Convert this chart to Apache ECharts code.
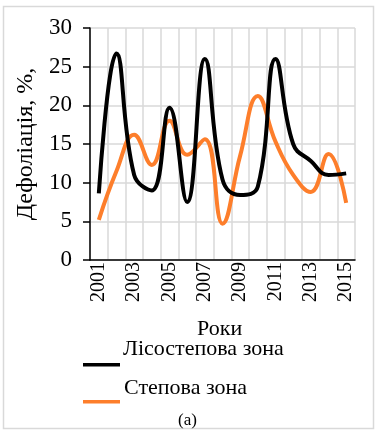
<!DOCTYPE html>
<html>
<head>
<meta charset="utf-8">
<script src="https://cdn.jsdelivr.net/npm/echarts@6/dist/echarts.min.js"></script>
<style>
  html, body { margin: 0; padding: 0; background: #fff; }
  #chart { width: 375px; height: 432px; }
</style>
</head>
<body>
<div id="chart"></div>
<script>
// data
const years = ['2001', '2002', '2003', '2004', '2005', '2006', '2007', '2008',
  '2009', '2010', '2011', '2012', '2013', '2014', '2015'];
const forestSteppe = [8.6, 26.7, 11, 9.0, 19.7, 7.5, 26, 10.4, 8.4, 9.5, 26, 15, 12.8, 11, 11.2];
const steppe = [5.2, 11.5, 16.2, 12.3, 18, 13.6, 15.6, 4.7, 13.5, 21.2, 15.3, 11, 8.8, 13.7, 7.4];
const seriesNames = ['Лісостепова зона', 'Степова зона'];
const seriesColors = ['#000000', '#FD7E2B'];
const yTicks = [0, 5, 10, 15, 20, 25, 30];

const font = 'Liberation Serif';
let chart = echarts.init(document.getElementById('chart'));
chart.setOption({
  animation: false,
  grid: { left: 90, right: 20, top: 28, bottom: 172 },
  xAxis: {
    type: 'category',
    data: years,
    boundaryGap: true,
    axisLine: { lineStyle: { color: '#000', width: 1.5 } },
    axisTick: {
      length: 7,
      lineStyle: { color: '#000', width: 1.5 },
      interval: function (i) { return i % 2 === 1; }
    },
    axisLabel: {
      interval: 1,
      rotate: 90,
      margin: 2,
      fontFamily: font,
      fontSize: 20,
      color: '#000'
    },
    splitLine: { show: true, interval: 0, lineStyle: { color: '#d9d9d9', width: 1.5 } }
  },
  yAxis: {
    type: 'value',
    min: yTicks[0],
    max: yTicks[yTicks.length - 1],
    interval: 5,
    name: 'Дефоліація, %,',
    nameLocation: 'middle',
    nameGap: 48,
    nameRotate: 90,
    nameTextStyle: { fontFamily: font, fontSize: 24, color: '#000' },
    axisLine: { show: true, lineStyle: { color: '#000', width: 1.5 } },
    axisTick: { show: true, length: 7, lineStyle: { color: '#000', width: 1.5 } },
    axisLabel: { margin: 18, fontFamily: font, fontSize: 23, color: '#000' },
    splitLine: { show: true, lineStyle: { color: '#d9d9d9', width: 1.5 } }
  },
  series: [
    {
      name: seriesNames[0],
      type: 'line',
      data: forestSteppe,
      smooth: 0.45,
      symbol: 'none',
      lineStyle: { color: seriesColors[0], width: 4 },
      z: 3
    },
    {
      name: seriesNames[1],
      type: 'line',
      data: steppe,
      smooth: 0.45,
      symbol: 'none',
      lineStyle: { color: seriesColors[1], width: 4 },
      z: 2
    }
  ],
  graphic: [
    { type: 'rect', shape: { x: 3.5, y: 6.5, width: 370, height: 422 },
      style: { fill: 'none', stroke: '#d9d9d9', lineWidth: 1.5 }, silent: true, z: -1 },
    { type: 'text', left: 197, top: 318,
      style: { text: 'Роки', font: '22px "Liberation Serif"', fill: '#000' } },
    { type: 'rect', shape: { x: 83, y: 363, width: 37, height: 3.5 },
      style: { fill: seriesColors[0] } },
    { type: 'text', left: 123, top: 338,
      style: { text: seriesNames[0], font: '22px "Liberation Serif"', fill: '#000' } },
    { type: 'rect', shape: { x: 83, y: 400, width: 37, height: 3.5 },
      style: { fill: seriesColors[1] } },
    { type: 'text', left: 124, top: 377,
      style: { text: seriesNames[1], font: '22px "Liberation Serif"', fill: '#000' } },
    { type: 'text', left: 178, top: 412,
      style: { text: '(a)', font: '17px "Liberation Serif"', fill: '#000' } }
  ]
});
</script>
</body>
</html>
